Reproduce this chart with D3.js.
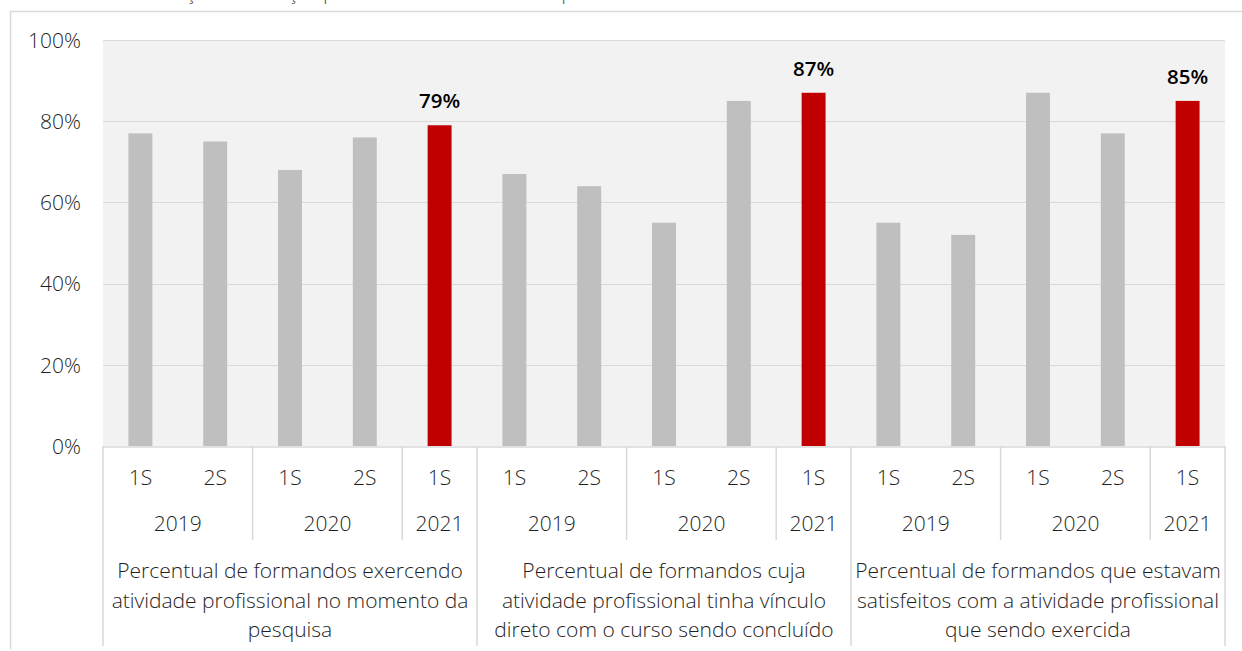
<!DOCTYPE html>
<html><head><meta charset="utf-8">
<script src="https://cdn.jsdelivr.net/npm/d3@7"></script>
<style>
html,body{margin:0;padding:0;background:#fff;overflow:hidden}
svg{display:block;font-family:"Open Sans",sans-serif}
</style></head>
<body><svg id="c" width="1242" height="651"></svg>
<script>
const titleText = "Evolução da situação profissional dos formandos por semestre";
const groups = [
  ["Percentual de formandos exercendo", "atividade profissional no momento da", "pesquisa"],
  ["Percentual de formandos cuja", "atividade profissional tinha vínculo", "direto com o curso sendo concluído"],
  ["Percentual de formandos que estavam", "satisfeitos com a atividade profissional", "que sendo exercida"]
];
const years = ["2019", "2019", "2020", "2020", "2021"];
const semesters = ["1S", "2S", "1S", "2S", "1S"];
const values = [
  [77, 75, 68, 76, 79],
  [67, 64, 55, 85, 87],
  [55, 52, 87, 77, 85]
];
const yTicks = [0, 20, 40, 60, 80, 100];

const FONT = "'Open Sans',sans-serif";
const FS = 21;
const TXT = "#1f1f1f";
const svg = d3.select("#c");
const W = 1242, H = 651;
const plot = {left: 103, right: 1225, top: 40, bottom: 446};

const data = [];
groups.forEach((g, gi) => values[gi].forEach((v, i) => data.push({g: gi, i, key: gi + "-" + i, v, sem: semesters[i], year: years[i], highlight: i === values[gi].length - 1})));

const x = d3.scaleBand().domain(data.map(d => d.key)).range([plot.left, plot.right]).paddingInner(0.68).paddingOuter(0.34);
const y = d3.scaleLinear().domain([0, 100]).range([plot.bottom, plot.top]);
const step = x.step();

svg.append("path").attr("d", `M10.5,${H-2} V11.5 H${W}`).attr("fill", "none").attr("stroke", "#d9d9d9").attr("stroke-width", 1.5);

svg.append("text").attr("x", 140).attr("y", 0).attr("font-size", 19).attr("font-weight", 300).attr("fill", "#404040").text(titleText);

svg.append("rect").attr("x", plot.left).attr("y", plot.top).attr("width", plot.right - plot.left).attr("height", plot.bottom - plot.top).attr("fill", "#f2f2f2");

svg.append("g").selectAll("line").data(yTicks.filter(t => t > 0)).join("line")
  .attr("x1", plot.left).attr("x2", plot.right)
  .attr("y1", d => Math.round(y(d)) + 0.5).attr("y2", d => Math.round(y(d)) + 0.5)
  .attr("stroke", "#d9d9d9").attr("stroke-width", 1);

const yAxis = d3.axisLeft(y).tickValues(yTicks).tickFormat(d => d + "%").tickSize(0).tickPadding(0);
const ya = svg.append("g").attr("transform", `translate(81,0)`).call(yAxis);
ya.select(".domain").remove();
ya.selectAll("text").attr("font-size", FS).attr("font-weight", 300).attr("fill", TXT).attr("font-family", FONT).attr("dy", "0.35em");

svg.append("g").selectAll("rect").data(data).join("rect")
  .attr("x", d => x(d.key)).attr("width", x.bandwidth())
  .attr("y", d => y(d.v)).attr("height", d => y(0) - y(d.v))
  .attr("fill", d => d.highlight ? "#c00000" : "#bfbfbf");

svg.append("g").selectAll("text").data(data.filter(d => d.highlight)).join("text")
  .attr("x", d => x(d.key) + x.bandwidth() / 2).attr("y", d => y(d.v) - 17)
  .attr("text-anchor", "middle").attr("font-size", 20.5).attr("font-weight", 600).attr("fill", "#000")
  .text(d => d.v + "%");

const sep = svg.append("g").attr("stroke", "#d9d9d9").attr("stroke-width", 1.5);
sep.append("line").attr("x1", plot.left).attr("x2", plot.right).attr("y1", plot.bottom + 1).attr("y2", plot.bottom + 1);
const perGroup = values[0].length;
for (let gi = 0; gi <= groups.length; gi++) {
  const xx = plot.left + gi * perGroup * step;
  sep.append("line").attr("x1", xx).attr("x2", xx).attr("y1", plot.bottom).attr("y2", 646);
}
data.forEach(d => {
  if (d.i > 0 && years[d.i] !== years[d.i - 1]) {
    const xx = x(d.key) - (x.step() - x.bandwidth()) / 2;
    sep.append("line").attr("x1", xx).attr("x2", xx).attr("y1", plot.bottom).attr("y2", 540);
  }
});

const lab = svg.append("g").attr("font-size", FS).attr("font-weight", 300).attr("fill", TXT).attr("text-anchor", "middle");
lab.selectAll("text.sem").data(data).join("text").attr("class", "sem")
  .attr("x", d => x(d.key) + x.bandwidth() / 2).attr("y", 478).attr("dy", "0.35em").text(d => d.sem);
const yearSpans = [];
data.forEach(d => {
  const last = yearSpans[yearSpans.length - 1];
  if (last && last.g === d.g && last.year === d.year) last.end = d.key;
  else yearSpans.push({g: d.g, year: d.year, start: d.key, end: d.key});
});
lab.selectAll("text.yr").data(yearSpans).join("text").attr("class", "yr")
  .attr("x", d => (x(d.start) + x(d.end) + x.bandwidth()) / 2).attr("y", 524).attr("dy", "0.35em").text(d => d.year);
groups.forEach((g, gi) => {
  const cx = plot.left + (gi + 0.5) * perGroup * step;
  g.forEach((line, li) => {
    lab.append("text").attr("x", cx).attr("y", 571 + li * 29.5).attr("dy", "0.35em").text(line);
  });
});
</script></body></html>
